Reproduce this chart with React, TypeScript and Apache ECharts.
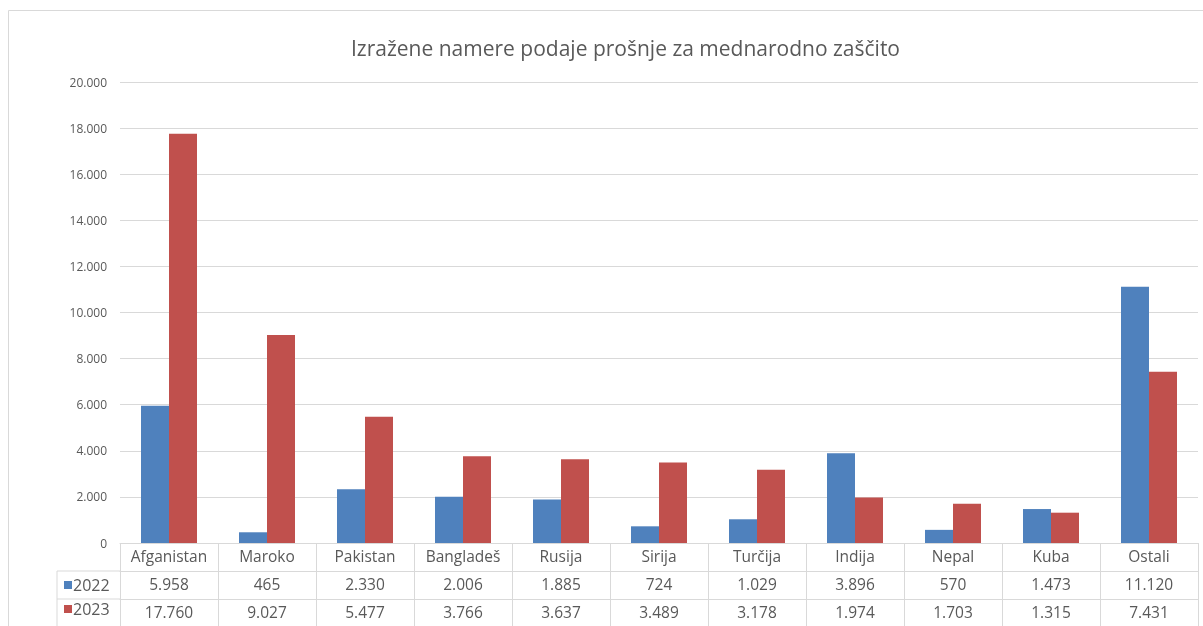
import React, { useEffect, useRef } from "react";
import * as echarts from "echarts";

const title = "Izražene namere podaje prošnje za mednarodno zaščito";
const categories = ["Afganistan", "Maroko", "Pakistan", "Bangladeš", "Rusija", "Sirija", "Turčija", "Indija", "Nepal", "Kuba", "Ostali"];
const values2022 = [5958, 465, 2330, 2006, 1885, 724, 1029, 3896, 570, 1473, 11120];
const values2023 = [17760, 9027, 5477, 3766, 3637, 3489, 3178, 1974, 1703, 1315, 7431];
const seriesNames = ["2022", "2023"];
const colors = ["#4f81bd", "#c0504d"];

const fmt = (v: number) => {
  const s = String(Math.round(v));
  return s.replace(/\B(?=(\d{3})+(?!\d))/g, ".");
};

const FONT = "'Open Sans', 'Noto Sans', sans-serif";
const TXT = "#595959";
const LINE = "#d9d9d9";

export default function App() {
  const ref = useRef<HTMLDivElement>(null);
  useEffect(() => {
    if (!ref.current) return;
    const chart = echarts.init(ref.current, undefined, { renderer: "svg" });
    const gridLeft = 120;
    const gridTop = 82;
    const axisY = 543;
    const rowH = 28;
    const tableLeft = 57;
    const baseX = {
      type: "category" as const,
      position: "bottom" as const,
      boundaryGap: true,
      axisLine: { show: true, lineStyle: { color: LINE, width: 1 } },
      axisTick: { show: true, length: rowH, interval: 0, lineStyle: { color: LINE } },
      axisLabel: { color: TXT, fontSize: 15.5, fontFamily: FONT, interval: 0, margin: 5 },
      splitLine: { show: false },
    };
    chart.setOption({
      animation: false,
      textStyle: { fontFamily: FONT },
      title: {
        text: title,
        left: 346,
        top: 32,
        textStyle: { color: TXT, fontSize: 21, fontWeight: "normal", fontFamily: FONT },
      },
      legend: {
        orient: "vertical",
        left: 59,
        top: 572,
        itemGap: 8,
        itemWidth: 8,
        itemHeight: 8,
        icon: "rect",
        selectedMode: false,
        textStyle: { color: TXT, fontSize: 16, fontFamily: FONT, padding: [0, 0, 0, -4] },
        data: seriesNames,
      },
      grid: { left: gridLeft, right: 5, top: gridTop, bottom: 626 - axisY, containLabel: false },
      xAxis: [
        { ...baseX, data: categories },
        { ...baseX, offset: rowH, data: values2022.map(fmt) },
        { ...baseX, offset: rowH * 2, data: values2023.map(fmt) },
      ],
      yAxis: {
        type: "value",
        min: 0,
        max: 20000,
        interval: 2000,
        axisLine: { show: false },
        axisTick: { show: false },
        axisLabel: { color: TXT, fontSize: 12, fontFamily: FONT, margin: 13, formatter: (v: number) => fmt(v) },
        splitLine: { lineStyle: { color: LINE, width: 1 } },
      },
      series: [
        {
          name: seriesNames[0],
          type: "bar",
          xAxisIndex: 0,
          data: values2022,
          barWidth: 28,
          barGap: "0%",
          itemStyle: { color: colors[0] },
        },
        {
          name: seriesNames[1],
          type: "bar",
          xAxisIndex: 0,
          data: values2023,
          barWidth: 28,
          barGap: "0%",
          itemStyle: { color: colors[1] },
        },
      ],
      graphic: [
        { type: "rect", shape: { x: 8.5, y: 10.5, width: 1300, height: 700 }, style: { fill: "none", stroke: LINE, lineWidth: 1 }, silent: true },
        { type: "line", shape: { x1: tableLeft, y1: axisY + rowH, x2: gridLeft, y2: axisY + rowH }, style: { stroke: LINE, lineWidth: 1 } },
        { type: "line", shape: { x1: tableLeft, y1: axisY + rowH * 2, x2: gridLeft, y2: axisY + rowH * 2 }, style: { stroke: LINE, lineWidth: 1 } },
        { type: "line", shape: { x1: tableLeft, y1: axisY + rowH, x2: tableLeft, y2: 640 }, style: { stroke: LINE, lineWidth: 1 } },
      ],
    });
    return () => chart.dispose();
  }, []);
  return <div ref={ref} style={{ position: "fixed", left: 0, top: 0, width: 1203, height: 626 }} />;
}
